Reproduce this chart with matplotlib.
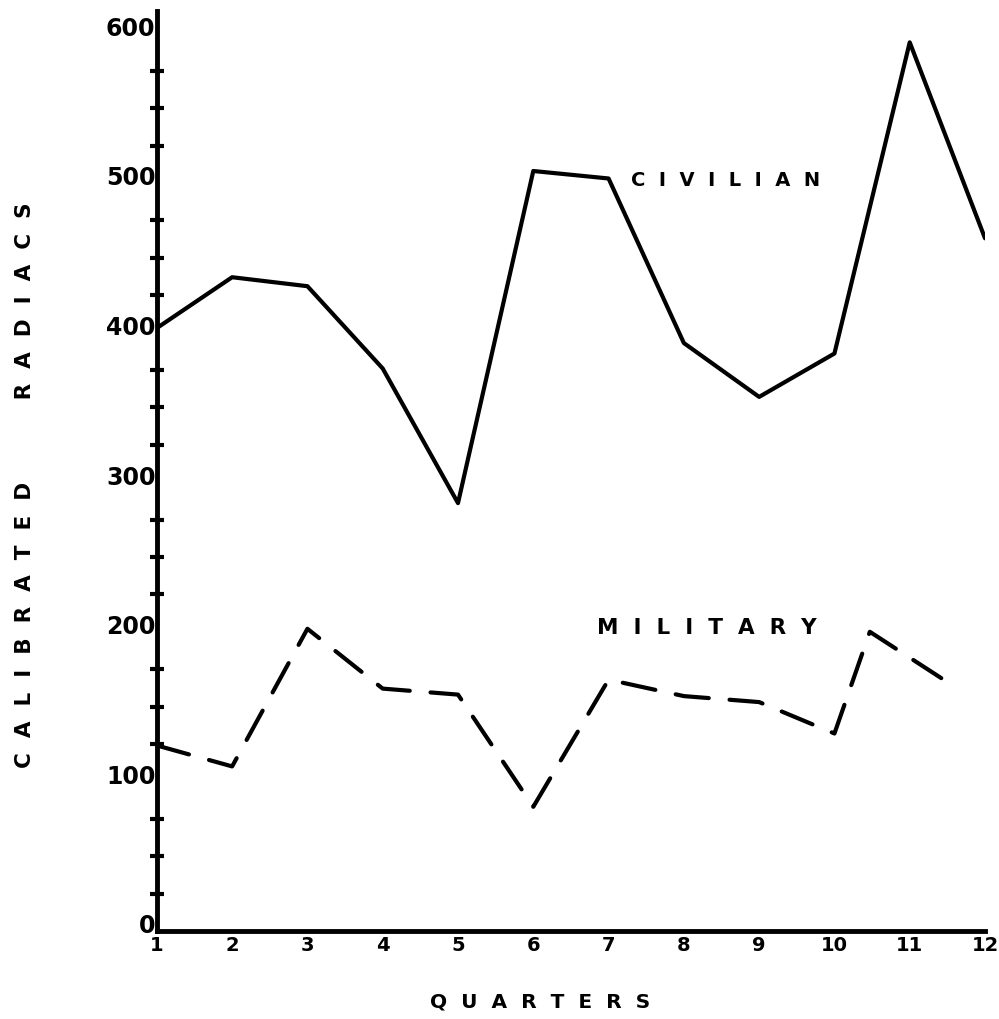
import matplotlib
matplotlib.use("Agg")
import matplotlib.pyplot as plt
import matplotlib.transforms as mtransforms

# quarterly counts
quarters = [1, 2, 3, 4, 5, 6, 7, 8, 9, 10, 11, 12]
civilian = [403, 437, 431, 376, 286, 508, 503, 393, 357, 386, 594, 463]

military_x = [1, 2, 3, 4, 5, 6, 7, 8, 9, 10, 10.47, 11.45]
military = [124, 110, 202, 162, 158, 83, 168, 157, 153, 132, 200, 168]

y_labels = [0, 100, 200, 300, 400, 500, 600]

fig = plt.figure(figsize=(9.99, 10.2), dpi=100)
ax = fig.add_axes([0.157, 0.0863, 0.829, 0.902])

ax.plot(quarters, civilian, color="black", lw=3.0, solid_joinstyle="round",
        solid_capstyle="round")
ax.plot(military_x, military, color="black", lw=3.0, linestyle=(0, (8, 5)),
        dash_capstyle="round")

ax.set_xlim(1, 12)
ax.set_ylim(0, 615)

for s in ["top", "right"]:
    ax.spines[s].set_visible(False)
for s in ["left", "bottom"]:
    ax.spines[s].set_linewidth(3.5)

ax.set_xticks(quarters)
ax.set_xticklabels([str(q) for q in quarters], fontsize=14, fontweight="bold")
ax.tick_params(axis="x", length=0, pad=3)

ax.set_yticks(y_labels)
ax.set_yticklabels([str(v) for v in y_labels], fontsize=17, fontweight="bold")
ax.tick_params(axis="y", which="major", length=0, pad=1)
ax.set_yticks([v for v in range(25, 615, 25) if v % 100], minor=True)
ax.tick_params(axis="y", which="minor", direction="inout", length=10, width=3)

offset = mtransforms.ScaledTranslation(0, 8 / 100, fig.dpi_scale_trans)
for lbl in ax.get_yticklabels():
    lbl.set_transform(lbl.get_transform() + offset)

fig.text(0.541, 0.018, "Q  U  A  R  T  E  R  S", ha="center", va="center",
         fontsize=14.5, fontweight="bold")
fig.text(0.025, 1 - 485 / 1020,
         "C  A  L  I  B  R  A  T  E  D           R  A  D  I  A  C  S",
         rotation=90, ha="center", va="center", fontsize=15.5, fontweight="bold")

ax.text(8.55, 502, "C  I  V  I  L  I  A  N", ha="center", va="center",
        fontsize=14, fontweight="bold")
ax.text(8.3, 203, "M  I  L  I  T  A  R  Y", ha="center", va="center",
        fontsize=15.5, fontweight="bold")

fig.savefig("out.png", dpi=100)
